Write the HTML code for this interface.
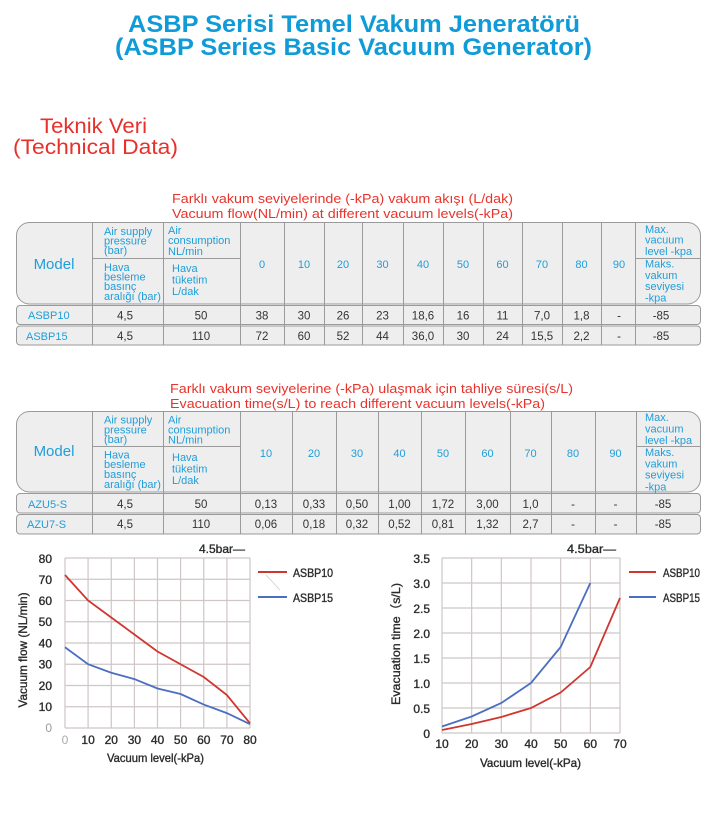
<!DOCTYPE html>
<html><head><meta charset="utf-8">
<style>
html,body{margin:0;padding:0;background:#fff;}
svg{display:block;}
text{font-family:"Liberation Sans","Noto Sans CJK SC",sans-serif;}
.ct{stroke:#2a2a2a;stroke-width:0.35;}
</style></head>
<body>
<svg width="718" height="814" viewBox="0 0 718 814" xmlns="http://www.w3.org/2000/svg">
<rect width="718" height="814" fill="#fff"/>

<!-- Titles -->
<g font-weight="bold" font-size="24" fill="#0f9bd7">
<text x="128" y="32" textLength="452" lengthAdjust="spacingAndGlyphs">ASBP Serisi Temel Vakum Jeneratörü</text>
<text x="115" y="55" textLength="477" lengthAdjust="spacingAndGlyphs">(ASBP Series Basic Vacuum Generator)</text>
</g>
<g font-size="21" fill="#e8302a">
<text x="40" y="133" textLength="107" lengthAdjust="spacingAndGlyphs">Teknik Veri</text>
<text x="13" y="154" textLength="165" lengthAdjust="spacingAndGlyphs">(Technical Data)</text>
</g>

<!-- Subtitles -->
<g font-size="13" fill="#e8332b">
<text x="172" y="203" textLength="341" lengthAdjust="spacingAndGlyphs">Farklı vakum seviyelerinde (-kPa) vakum akışı (L/dak)</text>
<text x="172" y="218" textLength="341" lengthAdjust="spacingAndGlyphs">Vacuum flow(NL/min) at different vacuum levels(-kPa)</text>
<text x="170" y="393" textLength="403" lengthAdjust="spacingAndGlyphs">Farklı vakum seviyelerine (-kPa) ulaşmak için tahliye süresi(s/L)</text>
<text x="170" y="408" textLength="375" lengthAdjust="spacingAndGlyphs">Evacuation time(s/L) to reach different vacuum levels(-kPa)</text>
</g>

<!-- TABLE 1 -->
<g stroke="#9a9a9a" stroke-width="1" fill="#eeeeee">
<rect x="16.5" y="222.5" width="684" height="81.5" rx="13" ry="13"/>
<rect x="16.5" y="305.5" width="684" height="19" rx="3.5" ry="3.5"/>
<rect x="16.5" y="326" width="684" height="19" rx="3.5" ry="3.5"/>
</g>
<g stroke="#9a9a9a" stroke-width="1">
<path d="M92.5 222.5V345 M163.5 222.5V345 M240.5 222.5V345 M284.5 222.5V345 M324.5 222.5V345 M362.5 222.5V345 M403.5 222.5V345 M443.5 222.5V345 M483.5 222.5V345 M522.5 222.5V345 M562.5 222.5V345 M601.5 222.5V345 M635.5 222.5V345"/>
<path d="M92.5 258.5H240.5 M635.5 258.5H700.5"/>
</g>
<g fill="#1f9ed8">
<text x="54" y="269" font-size="15" text-anchor="middle">Model</text>
<g font-size="11">
<text x="104" y="235">Air supply</text>
<text x="104" y="244.5">pressure</text>
<text x="104" y="254">(bar)</text>
<text x="104" y="271">Hava</text>
<text x="104" y="280.5">besleme</text>
<text x="104" y="290">basınç</text>
<text x="104" y="300">aralığı (bar)</text>
<text x="168" y="234">Air</text>
<text x="168" y="244">consumption</text>
<text x="168" y="255">NL/min</text>
<text x="172" y="272">Hava</text>
<text x="172" y="283.5">tüketim</text>
<text x="172" y="295">L/dak</text>
<text x="645" y="233">Max.</text>
<text x="645" y="243.5">vacuum</text>
<text x="645" y="255">level -kpa</text>
<text x="645" y="267.5">Maks.</text>
<text x="645" y="279">vakum</text>
<text x="645" y="290">seviyesi</text>
<text x="645" y="301.5">-kpa</text>
</g>
<g font-size="11" text-anchor="middle">
<text x="262" y="268">0</text>
<text x="304" y="268">10</text>
<text x="343" y="268">20</text>
<text x="382.5" y="268">30</text>
<text x="423" y="268">40</text>
<text x="463" y="268">50</text>
<text x="502.5" y="268">60</text>
<text x="542" y="268">70</text>
<text x="581.5" y="268">80</text>
<text x="619" y="268">90</text>
</g>
<g font-size="11">
<text x="28" y="319">ASBP10</text>
<text x="26" y="340">ASBP15</text>
</g>
</g>
<g fill="#333" font-size="11.5" text-anchor="middle">
<text x="125" y="319.5">4,5</text><text x="201" y="319.5">50</text>
<text x="262" y="319.5">38</text><text x="304" y="319.5">30</text><text x="343" y="319.5">26</text>
<text x="382.5" y="319.5">23</text><text x="423" y="319.5">18,6</text><text x="463" y="319.5">16</text>
<text x="502.5" y="319.5">11</text><text x="542" y="319.5">7,0</text><text x="581.5" y="319.5">1,8</text>
<text x="619" y="319.5">-</text><text x="661" y="319.5">-85</text>
<text x="125" y="340">4,5</text><text x="201" y="340">110</text>
<text x="262" y="340">72</text><text x="304" y="340">60</text><text x="343" y="340">52</text>
<text x="382.5" y="340">44</text><text x="423" y="340">36,0</text><text x="463" y="340">30</text>
<text x="502.5" y="340">24</text><text x="542" y="340">15,5</text><text x="581.5" y="340">2,2</text>
<text x="619" y="340">-</text><text x="661" y="340">-85</text>
</g>

<!-- TABLE 2 -->
<g stroke="#9a9a9a" stroke-width="1" fill="#eeeeee">
<rect x="16.5" y="411.5" width="684" height="80.5" rx="13" ry="13"/>
<rect x="16.5" y="493.5" width="684" height="19.5" rx="3.5" ry="3.5"/>
<rect x="16.5" y="514.5" width="684" height="19.5" rx="3.5" ry="3.5"/>
</g>
<g stroke="#9a9a9a" stroke-width="1">
<path d="M92.5 411.5V534 M163.5 411.5V534 M240.5 411.5V534 M292.5 411.5V534 M336.5 411.5V534 M378.5 411.5V534 M421.5 411.5V534 M465.5 411.5V534 M510.5 411.5V534 M551.5 411.5V534 M595.5 411.5V534 M636.5 411.5V534"/>
<path d="M92.5 446.5H240.5 M636.5 446.5H700.5"/>
</g>
<g fill="#1f9ed8">
<text x="54" y="456" font-size="15" text-anchor="middle">Model</text>
<g font-size="11">
<text x="104" y="423.5">Air supply</text>
<text x="104" y="433.5">pressure</text>
<text x="104" y="443">(bar)</text>
<text x="104" y="458.5">Hava</text>
<text x="104" y="468">besleme</text>
<text x="104" y="478">basınç</text>
<text x="104" y="488">aralığı (bar)</text>
<text x="168" y="423.5">Air</text>
<text x="168" y="433.5">consumption</text>
<text x="168" y="443.5">NL/min</text>
<text x="172" y="461">Hava</text>
<text x="172" y="472.5">tüketim</text>
<text x="172" y="484">L/dak</text>
<text x="645" y="421">Max.</text>
<text x="645" y="432.5">vacuum</text>
<text x="645" y="444">level -kpa</text>
<text x="645" y="456">Maks.</text>
<text x="645" y="467.5">vakum</text>
<text x="645" y="478.5">seviyesi</text>
<text x="645" y="490.5">-kpa</text>
</g>
<g font-size="11" text-anchor="middle">
<text x="266" y="457">10</text>
<text x="314" y="457">20</text>
<text x="357" y="457">30</text>
<text x="399.5" y="457">40</text>
<text x="443" y="457">50</text>
<text x="487.5" y="457">60</text>
<text x="530.5" y="457">70</text>
<text x="573" y="457">80</text>
<text x="615.5" y="457">90</text>
</g>
<g font-size="11">
<text x="28" y="508">AZU5-S</text>
<text x="27" y="528">AZU7-S</text>
</g>
</g>
<g fill="#333" font-size="11.5" text-anchor="middle">
<text x="125" y="508">4,5</text><text x="201" y="508">50</text>
<text x="266" y="508">0,13</text><text x="314" y="508">0,33</text><text x="357" y="508">0,50</text>
<text x="399.5" y="508">1,00</text><text x="443" y="508">1,72</text><text x="487.5" y="508">3,00</text>
<text x="530.5" y="508">1,0</text><text x="573" y="508">-</text><text x="615.5" y="508">-</text>
<text x="663" y="508">-85</text>
<text x="125" y="528">4,5</text><text x="201" y="528">110</text>
<text x="266" y="528">0,06</text><text x="314" y="528">0,18</text><text x="357" y="528">0,32</text>
<text x="399.5" y="528">0,52</text><text x="443" y="528">0,81</text><text x="487.5" y="528">1,32</text>
<text x="530.5" y="528">2,7</text><text x="573" y="528">-</text><text x="615.5" y="528">-</text>
<text x="663" y="528">-85</text>
</g>

<!-- CHART 1 -->
<g stroke="#cfc6c6" stroke-width="1.2" fill="none">
<path d="M65 558V728 M88.1 558V728 M111.25 558V728 M134.4 558V728 M157.5 558V728 M180.6 558V728 M203.75 558V728 M226.9 558V728 M250 558V728"/>
<path d="M65 558H250 M65 579.25H250 M65 600.5H250 M65 621.75H250 M65 643H250 M65 664.25H250 M65 685.5H250 M65 706.75H250 M65 728H250"/>
</g>
<polyline fill="none" stroke="#d0362f" stroke-width="1.8" points="65,575 88.1,600.5 111.25,617.5 134.4,634.5 157.5,651.5 180.6,664.25 203.75,677 226.9,695 250,723.3"/>
<polyline fill="none" stroke="#4a6fc0" stroke-width="1.8" points="65,647.25 88.1,664.25 111.25,672.75 134.4,679.1 157.5,688.5 180.6,694 203.75,704.6 226.9,713.1 250,724.2"/>
<g font-size="12" fill="#2a2a2a" text-anchor="end" class="ct">
<text x="52" y="563">80</text>
<text x="52" y="584">70</text>
<text x="52" y="605">60</text>
<text x="52" y="626">50</text>
<text x="52" y="647.5">40</text>
<text x="52" y="668.5">30</text>
<text x="52" y="690">20</text>
<text x="52" y="711">10</text>
<text x="52" y="732" fill="#999" stroke="none">0</text>
</g>
<g font-size="12" fill="#2a2a2a" text-anchor="middle" class="ct">
<text x="65" y="744" fill="#aaa" stroke="none">0</text>
<text x="88.1" y="744">10</text>
<text x="111.25" y="744">20</text>
<text x="134.4" y="744">30</text>
<text x="157.5" y="744">40</text>
<text x="180.6" y="744">50</text>
<text x="203.75" y="744">60</text>
<text x="226.9" y="744">70</text>
<text x="250" y="744">80</text>
</g>
<text x="107" y="762" font-size="12" fill="#2a2a2a" class="ct" textLength="97" lengthAdjust="spacingAndGlyphs">Vacuum level(-kPa)</text>
<text transform="translate(27,650) rotate(-90)" font-size="12" fill="#2a2a2a" class="ct" text-anchor="middle" textLength="115" lengthAdjust="spacingAndGlyphs">Vacuum flow (NL/min)</text>
<text x="199" y="553" font-size="12" fill="#2a2a2a" class="ct" textLength="46" lengthAdjust="spacingAndGlyphs">4.5bar—</text>
<line x1="258" y1="572" x2="287" y2="572" stroke="#d0362f" stroke-width="2"/>
<line x1="258" y1="597" x2="287" y2="597" stroke="#4a6fc0" stroke-width="2"/>
<line x1="266" y1="575" x2="280" y2="590" stroke="#ccc" stroke-width="0.8"/>
<text x="293" y="577" font-size="11.5" fill="#2a2a2a" class="ct" textLength="40" lengthAdjust="spacingAndGlyphs">ASBP10</text>
<text x="293" y="602" font-size="11.5" fill="#2a2a2a" class="ct" textLength="40" lengthAdjust="spacingAndGlyphs">ASBP15</text>

<!-- CHART 2 -->
<g stroke="#cfc6c6" stroke-width="1.2" fill="none">
<path d="M442 558V733 M471.67 558V733 M501.33 558V733 M531 558V733 M560.67 558V733 M590.33 558V733 M620 558V733"/>
<path d="M442 558H620 M442 583H620 M442 608H620 M442 633H620 M442 658H620 M442 683H620 M442 708H620 M442 733H620"/>
</g>
<polyline fill="none" stroke="#d0362f" stroke-width="1.8" points="442,730 471.67,724 501.33,717 531,708 560.67,692.5 590.33,667 620,598"/>
<polyline fill="none" stroke="#4a6fc0" stroke-width="1.8" points="442,726.5 471.67,716.5 501.33,703 531,683 560.67,647 590.33,583"/>
<g font-size="12" fill="#2a2a2a" text-anchor="end" class="ct">
<text x="430" y="563">3.5</text>
<text x="430" y="588">3.0</text>
<text x="430" y="613">2.5</text>
<text x="430" y="638">2.0</text>
<text x="430" y="663">1.5</text>
<text x="430" y="688">1.0</text>
<text x="430" y="713">0.5</text>
<text x="430" y="738">0</text>
</g>
<g font-size="12" fill="#2a2a2a" text-anchor="middle" class="ct">
<text x="442" y="748">10</text>
<text x="471.67" y="748">20</text>
<text x="501.33" y="748">30</text>
<text x="531" y="748">40</text>
<text x="560.67" y="748">50</text>
<text x="590.33" y="748">60</text>
<text x="620" y="748">70</text>
</g>
<text x="480" y="767" font-size="12" fill="#2a2a2a" class="ct" textLength="101" lengthAdjust="spacingAndGlyphs">Vacuum level(-kPa)</text>
<text transform="translate(400,644) rotate(-90)" font-size="12" fill="#2a2a2a" class="ct" text-anchor="middle" textLength="122" lengthAdjust="spacingAndGlyphs">Evacuation time（s/L)</text>
<text x="567" y="553" font-size="12" fill="#2a2a2a" class="ct" textLength="49" lengthAdjust="spacingAndGlyphs">4.5bar—</text>
<line x1="629" y1="572" x2="656" y2="572" stroke="#d0362f" stroke-width="2"/>
<line x1="629" y1="597" x2="656" y2="597" stroke="#4a6fc0" stroke-width="2"/>
<text x="663" y="577" font-size="11.5" fill="#2a2a2a" class="ct" textLength="37" lengthAdjust="spacingAndGlyphs">ASBP10</text>
<text x="663" y="602" font-size="11.5" fill="#2a2a2a" class="ct" textLength="37" lengthAdjust="spacingAndGlyphs">ASBP15</text>
</svg>
</body></html>
